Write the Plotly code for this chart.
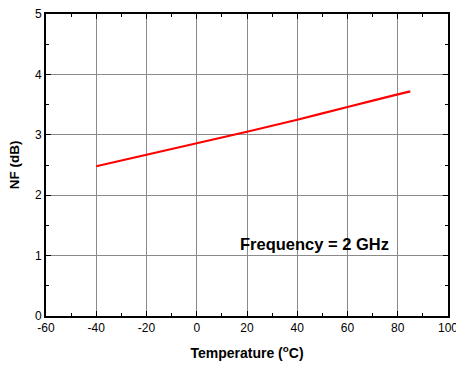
import plotly.graph_objects as go

temperature = [-40, -20, 0, 20, 40, 60, 80, 85]
nf_db = [2.48, 2.67, 2.86, 3.05, 3.25, 3.46, 3.67, 3.72]
x_ticks = [-60, -40, -20, 0, 20, 40, 60, 80, 100]
x_ticklabels = ["-60", "-40", "-20", "0", "20", "40", "60", "80", "100"]
y_ticks = [0, 1, 2, 3, 4, 5]
annotation_text = "Frequency = 2 GHz"

FONT = "Liberation Sans, Arial"

fig = go.Figure()
fig.add_trace(go.Scatter(x=temperature, y=nf_db, mode="lines",
                         line=dict(color="#ff0000", width=2.2, shape="spline", smoothing=0.6),
                         showlegend=False))

axis_common = dict(
    showline=True, linecolor="black", linewidth=1.6, mirror="allticks",
    ticks="inside", ticklen=5, tickwidth=1.2, tickcolor="black",
    showgrid=True, gridcolor="#8a8a8a", gridwidth=1, zeroline=False,
    automargin=False, ticklabeloverflow="allow",
    tickfont=dict(family=FONT, size=12, color="black"),
)

fig.update_xaxes(range=[-60, 100], tickmode="array", tickvals=x_ticks, ticktext=x_ticklabels,
                 minor=dict(ticks="inside", ticklen=3, dtick=10, tickcolor="black", showgrid=False),
                 title=dict(text="<b>Temperature (<sup>o</sup>C)</b>", standoff=14,
                            font=dict(family=FONT, size=14, color="black")),
                 **axis_common)
fig.update_yaxes(range=[0, 5], tickmode="array", tickvals=y_ticks,
                 minor=dict(ticks="inside", ticklen=3, dtick=0.5, tickcolor="black", showgrid=False),
                 title=dict(text="<b>NF (dB)</b>", standoff=12,
                            font=dict(family=FONT, size=13.5, color="black")),
                 **axis_common)

fig.add_annotation(x=47, y=1.19, xref="x", yref="y", text="<b>" + annotation_text + "</b>",
                   showarrow=False, font=dict(family=FONT, size=16.5, color="black"))

fig.update_layout(width=456, height=367, margin=dict(l=46, r=8, t=14, b=51),
                  plot_bgcolor="white", paper_bgcolor="white")

fig.write_html("out.html")
